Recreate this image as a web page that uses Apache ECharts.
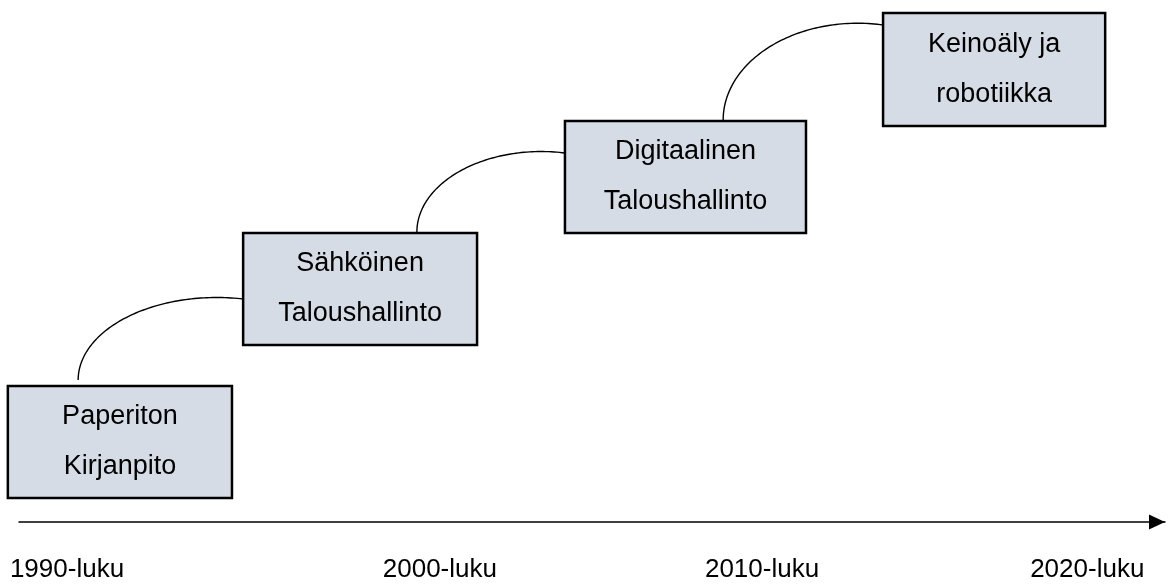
<!DOCTYPE html>
<html>
<head>
<meta charset="utf-8">
<script src="https://cdn.jsdelivr.net/npm/echarts@6/dist/echarts.min.js"></script>
<style>
html,body{margin:0;padding:0;background:#ffffff;}
#chart{width:1173px;height:588px;}
</style>
</head>
<body>
<div id="chart"></div>
<script>
// ---- data (timeline in years, height in "levels") ----
const periodLabels = ['1990-luku', '2000-luku', '2010-luku', '2020-luku'];
const periodPos = [1989.82, 2000.85, 2010.38, 2020];

const stageNames = ['Paperiton\nKirjanpito', 'Sähköinen\nTaloushallinto', 'Digitaalinen\nTaloushallinto', 'Keinoäly ja\nrobotiikka'];
const stageStart = [1988.07, 1995.03, 2004.55, 2013.96];
const stageEnd = [1994.70, 2001.95, 2011.68, 2020.53];
const stageBottom = [0.48, 3.54, 5.78, 7.92];
const stageTop = [2.72, 5.78, 8.02, 10.18];

// connectors: from a point on the lower stage to the left side of the next stage
const arcStartYear = [1990.15, 2000.17, 2009.23];
const arcStartLevel = [2.84, 5.80, 8.04];
const arcEndYear = [1995.03, 2004.55, 2013.96];
const arcEndLevel = [4.46, 7.38, 9.94];

// ---- chart ----
const chart = echarts.init(document.getElementById('chart'), null, {renderer: 'canvas'});

const boxData = stageNames.map((n, i) => [stageStart[i], stageEnd[i], stageBottom[i], stageTop[i]]);
const arcData = arcStartYear.map((x, i) => [x, arcStartLevel[i], arcEndYear[i], arcEndLevel[i]]);

const FONT = '"Liberation Sans", Arial, sans-serif';

function renderBox(params, api) {
  const p0 = api.coord([api.value(0), api.value(3)]);
  const p1 = api.coord([api.value(1), api.value(2)]);
  const x = p0[0], y = p0[1], w = p1[0] - p0[0], h = p1[1] - p0[1];
  return {
    type: 'group',
    children: [
      {type: 'rect', shape: {x: x, y: y, width: w, height: h},
       style: {fill: '#D6DCE5', stroke: '#000000', lineWidth: 2.5}},
      {type: 'text', style: {text: stageNames[params.dataIndex], x: x + w / 2, y: y + h / 2,
        align: 'center', verticalAlign: 'middle', fontSize: 27, fontFamily: FONT,
        lineHeight: 50, fill: '#000000'}}
    ]
  };
}

function renderArc(params, api) {
  const s = api.coord([api.value(0), api.value(1)]);
  const e = api.coord([api.value(2), api.value(3)]);
  const w = e[0] - s[0], hgt = s[1] - e[1];
  const cx = s[0] + 0.84 * w;
  const a = cx - s[0];
  const ratio = (e[0] - cx) / a;
  const b = hgt / Math.sqrt(1 - ratio * ratio);
  const tEnd = Math.acos(ratio);
  const pts = [];
  const N = 80;
  for (let k = 0; k <= N; k++) {
    const t = Math.PI - (Math.PI - tEnd) * k / N;
    pts.push([cx + a * Math.cos(t), s[1] - b * Math.sin(t)]);
  }
  return {type: 'polyline', shape: {points: pts},
          style: {stroke: '#000000', lineWidth: 1.4, fill: null}};
}

chart.setOption({
  backgroundColor: '#ffffff',
  animation: false,
  grid: {left: 19, right: 8, top: 0, bottom: 66, containLabel: false},
  xAxis: {
    type: 'value', min: 1988.4, max: 2022.3,
    splitLine: {show: false},
    axisTick: {show: false},
    axisLine: {show: true, onZero: false, symbol: ['none', 'triangle'], symbolSize: [15, 16], symbolOffset: [0, -8],
               lineStyle: {color: '#000000', width: 1.5}},
    axisLabel: {
      customValues: periodPos,
      formatter: function (v) {
        let best = 0;
        for (let i = 1; i < periodPos.length; i++) {
          if (Math.abs(periodPos[i] - v) < Math.abs(periodPos[best] - v)) best = i;
        }
        return periodLabels[best];
      },
      fontSize: 26, fontFamily: FONT, color: '#000000', margin: 35, hideOverlap: false
    }
  },
  yAxis: {
    type: 'value', min: 0, max: 10.44, show: false
  },
  series: [
    {type: 'custom', data: arcData, renderItem: renderArc, clip: false, silent: true,
     encode: {x: [0, 2], y: [1, 3]}, z: 1},
    {type: 'custom', data: boxData, renderItem: renderBox, clip: false, silent: true,
     encode: {x: [0, 1], y: [2, 3]}, z: 2}
  ]
});
</script>
</body>
</html>
